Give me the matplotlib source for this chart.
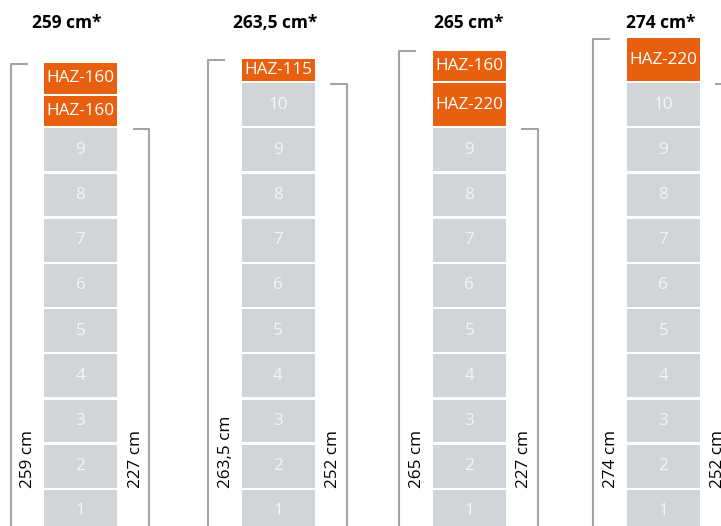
import matplotlib
matplotlib.use("Agg")
import matplotlib.pyplot as plt
from matplotlib.patches import Rectangle

plt.rcParams['font.family'] = ['Open Sans', 'DejaVu Sans']

# data
titles = ["259 cm*", "263,5 cm*", "265 cm*", "274 cm*"]
gray_counts = [9, 10, 9, 10]
# extra blocks stacked on top, from bottom to top
top_blocks = [["HAZ-160", "HAZ-160"], ["HAZ-115"], ["HAZ-220", "HAZ-160"], ["HAZ-220"]]
left_labels = ["259 cm", "263,5 cm", "265 cm", "274 cm"]
right_labels = ["227 cm", "252 cm", "227 cm", "252 cm"]

# drawn height of each block kind (drawing units)
gray_h = 45.2
haz_h = {"HAZ-115": 24, "HAZ-160": 32.5, "HAZ-220": 45}

# layout
centers = [80.5, 278, 469.3, 663.3]
title_x = [67, 275, 469, 661]
block_w = 73
gap = 1.2
orange = "#e8600f"
gray = "#d1d5d9"
line_c = "#a3a3a3"

fig = plt.figure(figsize=(7.21, 5.26), dpi=100)
ax = fig.add_axes([0, 0, 1, 1])
ax.set_xlim(0, 721)
ax.set_ylim(8, 534)
ax.axis("off")

for i, cx in enumerate(centers):
    x0 = cx - block_w / 2
    y = 0
    for k in range(1, gray_counts[i] + 1):
        ax.add_patch(Rectangle((x0, y + gap), block_w, gray_h - 2 * gap,
                               facecolor=gray, edgecolor="none"))
        ax.text(cx, y + gray_h / 2, str(k), ha="center", va="center",
                color="#f3f5f6", fontsize=12.3)
        y += gray_h
    gray_top = y
    for name in top_blocks[i]:
        h = haz_h[name]
        ax.add_patch(Rectangle((x0, y + gap), block_w, h - 2 * gap,
                               facecolor=orange, edgecolor="none"))
        ax.text(cx, y + h / 2, name, ha="center", va="center",
                color="white", fontsize=12.3)
        y += h
    total_top = y

    # left bracket (total height)
    ax.plot([cx - 53, cx - 70, cx - 70], [total_top - 1.5, total_top - 1.5, -20],
            color=line_c, lw=1.5, solid_capstyle="butt", clip_on=False)
    # right bracket (stack of gray blocks)
    ax.plot([cx + 52, cx + 68.5, cx + 68.5], [gray_top - 1.5, gray_top - 1.5, -20],
            color=line_c, lw=1.5, solid_capstyle="butt", clip_on=False)

    ax.text(cx - 52, 46, left_labels[i], rotation=90, rotation_mode="anchor",
            ha="left", va="center", fontsize=12.3, color="black")
    ax.text(cx + 55, 46, right_labels[i], rotation=90, rotation_mode="anchor",
            ha="left", va="center", fontsize=12.3, color="black")

    ax.text(title_x[i], 506, titles[i], ha="center", va="baseline",
            fontsize=12.5, fontweight="bold", color="black")

fig.savefig("out.png", dpi=100)
